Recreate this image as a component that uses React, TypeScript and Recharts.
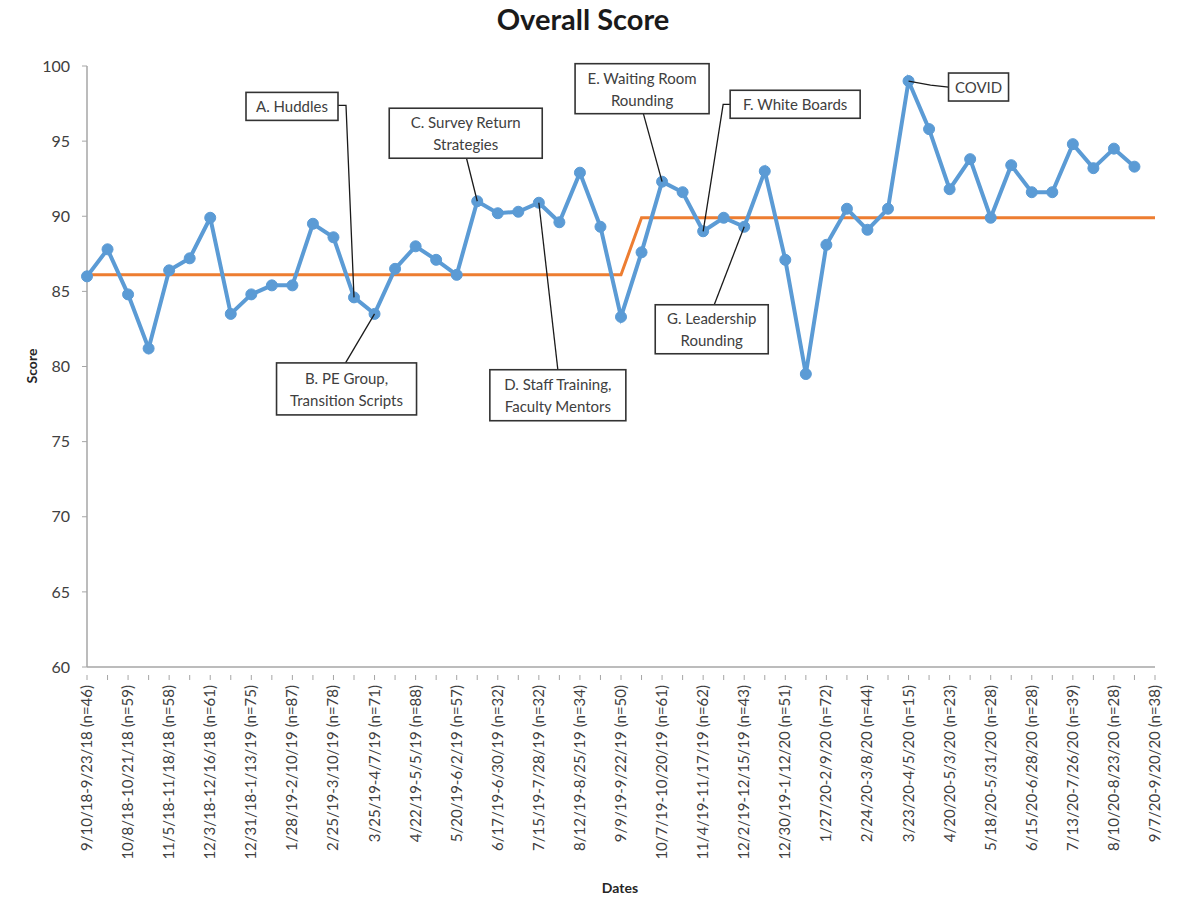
import { LineChart, Line, XAxis, YAxis, ReferenceDot } from 'recharts'

const periods = [
  '9/10/18-9/23/18 (n=46)', '10/8/18-10/21/18 (n=59)', '11/5/18-11/18/18 (n=58)',
  '12/3/18-12/16/18 (n=61)', '12/31/18-1/13/19 (n=75)', '1/28/19-2/10/19 (n=87)',
  '2/25/19-3/10/19 (n=78)', '3/25/19-4/7/19 (n=71)', '4/22/19-5/5/19 (n=88)',
  '5/20/19-6/2/19 (n=57)', '6/17/19-6/30/19 (n=32)', '7/15/19-7/28/19 (n=32)',
  '8/12/19-8/25/19 (n=34)', '9/9/19-9/22/19 (n=50)', '10/7/19-10/20/19 (n=61)',
  '11/4/19-11/17/19 (n=62)', '12/2/19-12/15/19 (n=43)', '12/30/19-1/12/20 (n=51)',
  '1/27/20-2/9/20 (n=72)', '2/24/20-3/8/20 (n=44)', '3/23/20-4/5/20 (n=15)',
  '4/20/20-5/3/20 (n=23)', '5/18/20-5/31/20 (n=28)', '6/15/20-6/28/20 (n=28)',
  '7/13/20-7/26/20 (n=39)', '8/10/20-8/23/20 (n=28)', '9/7/20-9/20/20 (n=38)',
]

// biweekly scores (labels above sit on every other period)
const scores = [
  86.0, 87.8, 84.8, 81.2, 86.4, 87.2, 89.9, 83.5, 84.8, 85.4, 85.4, 89.5, 88.6,
  84.6, 83.5, 86.5, 88.0, 87.1, 86.1, 91.0, 90.2, 90.3, 90.9, 89.6, 92.9, 89.3,
  83.3, 87.6, 92.3, 91.6, 89.0, 89.9, 89.3, 93.0, 87.1, 79.5, 88.1, 90.5, 89.1,
  90.5, 99.0, 95.8, 91.8, 93.8, 89.9, 93.4, 91.6, 91.6, 94.8, 93.2, 94.5, 93.3,
]

const centerLine = [
  86.1, 86.1, 86.1, 86.1, 86.1, 86.1, 86.1, 86.1, 86.1, 86.1, 86.1, 86.1, 86.1,
  86.1, 86.1, 86.1, 86.1, 86.1, 86.1, 86.1, 86.1, 86.1, 86.1, 86.1, 86.1, 86.1,
  86.1, 89.9, 89.9, 89.9, 89.9, 89.9, 89.9, 89.9, 89.9, 89.9, 89.9, 89.9, 89.9,
  89.9, 89.9, 89.9, 89.9, 89.9, 89.9, 89.9, 89.9, 89.9, 89.9, 89.9, 89.9, 89.9,
  89.9,
]

const yTicks = [60, 65, 70, 75, 80, 85, 90, 95, 100]

// callouts: point index, text, box offset from the point, leader path offsets
const callouts = [
  { i: 13, lines: ['A. Huddles'], box: [-108, -205, 92, 28], leader: [[0, 0], [-8, -192], [-16, -192]] },
  { i: 14, lines: ['B. PE Group,', 'Transition Scripts'], box: [-98, 49, 140, 52], leader: [[0, 0], [-29, 49]] },
  { i: 19, lines: ['C. Survey Return', 'Strategies'], box: [-88, -93, 153, 50], leader: [[0, 0], [-11, -44]] },
  { i: 22, lines: ['D. Staff Training,', 'Faculty Mentors'], box: [-49, 167, 136, 51], leader: [[0, 0], [19, 167]] },
  { i: 28, lines: ['E. Waiting Room', 'Rounding'], box: [-87, -118, 134, 50], leader: [[0, 0], [-19, -69]] },
  { i: 30, lines: ['F. White Boards'], box: [27, -141, 130, 28], leader: [[0, 0], [20, -127], [27, -127]] },
  { i: 32, lines: ['G. Leadership', 'Rounding'], box: [-89, 78, 113, 49], leader: [[0, 0], [-30, 78]] },
  { i: 40, lines: ['COVID'], box: [40, -8, 60, 28], leader: [[0, 0], [22, 4], [40, 6]] },
]

const data = centerLine.map((c, i) => ({
  i,
  score: i < scores.length ? scores[i] : null,
  center: c,
}))

const xTicks = centerLine.map((_, i) => i)

const DateTick = (props: any) => {
  const { x, y, payload } = props
  const idx = payload.value
  const label = idx % 2 === 0 ? periods[idx / 2] : null
  return (
    <g>
      <line x1={x} y1={y} x2={x} y2={y + 5} stroke="#a6a6a6" strokeWidth={1} />
      {label && (
        <text
          transform={`translate(${x + 5}, ${y + 10}) rotate(-90)`}
          textAnchor="end"
          fontSize={15}
          fill="#404040"
        >
          {label}
        </text>
      )}
    </g>
  )
}

const Callout = ({ cx, cy, c }: any) => {
  if (cx == null || cy == null) return null
  const [bx, by, w, h] = c.box
  const pts = c.leader.map(([dx, dy]: number[]) => `${cx + dx},${cy + dy}`).join(' ')
  const lh = 22
  const top = cy + by + h / 2 - ((c.lines.length - 1) * lh) / 2
  return (
    <g>
      <polyline points={pts} fill="none" stroke="#1a1a1a" strokeWidth={1.3} />
      <rect x={cx + bx} y={cy + by} width={w} height={h} fill="#fff" stroke="#333" strokeWidth={1.6} />
      {c.lines.map((t: string, k: number) => (
        <text key={k} x={cx + bx + w / 2} y={top + k * lh} textAnchor="middle"
          dominantBaseline="central" fontSize={15} fill="#404040">
          {t}
        </text>
      ))}
    </g>
  )
}

export default function App() {
  return (
    <div style={{ position: 'absolute', left: 0, top: 0, width: 1185, height: 897, background: '#fff', fontFamily: 'Lato, sans-serif' }}>
      <div style={{ position: 'absolute', left: 0, top: 1, width: 1166, textAlign: 'center', fontSize: 29, fontWeight: 700, color: '#1a1a1a' }}>
        Overall Score
      </div>
      <LineChart width={1185} height={897} data={data} margin={{ top: 66, right: 30, left: 37, bottom: 30 }}>
        <XAxis
          type="number"
          dataKey="i"
          domain={[0, 52]}
          ticks={xTicks}
          interval={0}
          height={200}
          tick={<DateTick />}
          tickLine={false}
          axisLine={{ stroke: '#a6a6a6', strokeWidth: 1.5 }}
          label={{
            content: () => (
              <text x={620} y={887} textAnchor="middle" dominantBaseline="central"
                fontSize={14} fontWeight={700} fill="#262626">Dates</text>
            ),
          }}
        />
        <YAxis
          domain={[60, 100]}
          ticks={yTicks}
          width={50}
          tickSize={5}
          tickMargin={12}
          tick={{ fill: '#404040', fontSize: 16 }}
          tickLine={{ stroke: '#a6a6a6' }}
          axisLine={{ stroke: '#a6a6a6', strokeWidth: 1.5 }}
          label={{
            content: () => (
              <text transform="translate(31, 366) rotate(-90)" textAnchor="middle"
                dominantBaseline="central" fontSize={14} fontWeight={700} fill="#262626">Score</text>
            ),
          }}
        />
        <Line
          dataKey="center"
          stroke="#ED7D31"
          strokeWidth={3}
          dot={false}
          isAnimationActive={false}
        />
        <Line
          dataKey="score"
          stroke="#5B9BD5"
          strokeWidth={4}
          dot={{ r: 5.5, fill: '#5B9BD5', stroke: '#5B9BD5', strokeWidth: 1 }}
          activeDot={false}
          isAnimationActive={false}
        />
        {callouts.map(c => (
          <ReferenceDot
            key={c.i}
            x={c.i}
            y={scores[c.i]}
            r={0}
            shape={(p: any) => <Callout cx={p.cx} cy={p.cy} c={c} />}
          />
        ))}
      </LineChart>
    </div>
  )
}
